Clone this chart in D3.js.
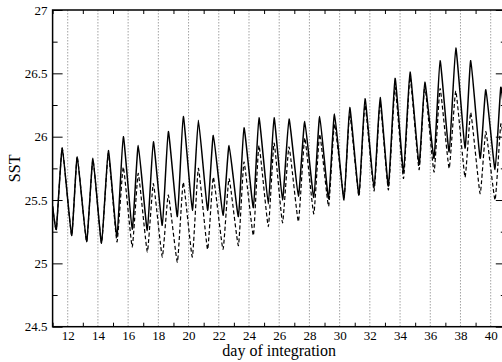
<!DOCTYPE html>
<html><head><meta charset="utf-8">
<script src="https://cdn.jsdelivr.net/npm/d3@7"></script>
<style>
html,body{margin:0;padding:0;background:#fff;}
svg{display:block;}
svg text{font-family:"Liberation Serif","DejaVu Serif",serif;}
</style></head>
<body>
<svg id="chart" width="502" height="362"></svg>
<script>
// Data: daily extremes (day, SST)
const solidDays = [11.0,11.25,11.64,12.26,12.63,13.25,13.67,14.24,14.69,15.26,15.68,16.27,16.67,17.27,17.67,18.26,18.66,19.26,19.65,20.25,20.65,21.26,21.64,22.28,22.68,23.3,23.67,24.29,24.66,25.28,25.66,26.22,26.65,27.27,27.69,28.29,28.68,29.27,29.66,30.29,30.67,31.28,31.68,32.28,32.68,33.23,33.67,34.23,34.66,35.26,35.64,36.25,36.65,37.25,37.69,38.3,38.68,39.3,39.68,40.29,40.67,41.0];
const solidSST = [25.45,25.27,25.91,25.22,25.84,25.17,25.83,25.16,25.89,25.21,26.0,25.27,25.93,25.26,25.96,25.30,26.04,25.37,26.16,25.42,26.13,25.42,26.01,25.38,25.93,25.37,26.07,25.44,26.15,25.47,26.15,25.50,26.14,25.53,26.12,25.52,26.16,25.51,26.18,25.50,26.23,25.54,26.30,25.59,26.31,25.61,26.46,25.72,26.51,25.78,26.43,25.83,26.60,25.88,26.70,25.91,26.60,25.83,26.37,25.74,26.39,26.05];
const dashedDays = solidDays;
const dashedSST = [25.45,25.27,25.91,25.22,25.84,25.17,25.82,25.16,25.87,25.17,25.76,25.13,25.71,25.09,25.63,25.05,25.54,25.01,25.64,25.05,25.75,25.11,25.68,25.11,25.67,25.14,25.80,25.22,25.93,25.29,25.95,25.32,25.92,25.33,25.99,25.39,26.02,25.45,26.10,25.52,26.18,25.53,26.25,25.57,26.27,25.58,26.39,25.67,26.47,25.74,26.40,25.72,26.38,25.75,26.36,25.68,26.19,25.55,26.04,25.50,26.10,25.85];
const xMajorTicks = [12,14,16,18,20,22,24,26,28,30,32,34,36,38,40];
const xMinorTicks = [11,13,15,17,19,21,23,25,27,29,31,33,35,37,39,41];
const yMajorTicks = [24.5,25,25.5,26,26.5,27];
const yMinorTicks = [24.75,25.25,25.75,26.25,26.75];
const xTitle = "day of integration";
const yTitle = "SST";

const FONT = "'Liberation Serif', 'DejaVu Serif', serif";
const svg = d3.select("#chart");
const L = 52.6, R = 505.8, T = 10, B = 326.7;
const x = d3.scaleLinear().domain([11,41]).range([L,R]);
const y = d3.scaleLinear().domain([24.5,27]).range([B,T]);

svg.append("defs").append("clipPath").attr("id","clip")
  .append("rect").attr("x",L).attr("y",T).attr("width",R-L).attr("height",B-T);

// gridlines at major x ticks
svg.append("g").selectAll("line").data(xMajorTicks).join("line")
  .attr("x1",d=>x(d)).attr("x2",d=>x(d)).attr("y1",T).attr("y2",B)
  .attr("stroke","#8c8c8c").attr("stroke-width",0.8).attr("stroke-dasharray","1.5,1.5");

const line = d3.line().curve(d3.curveCardinal.tension(0.6)).x(d=>x(d[0])).y(d=>y(d[1]));
const g = svg.append("g").attr("clip-path","url(#clip)");
g.append("path").datum(dashedDays.map((d,i)=>[d,dashedSST[i]]))
  .attr("d",line).attr("fill","none").attr("stroke","#000").attr("stroke-width",1.2)
  .attr("stroke-dasharray","4,2.5");
g.append("path").datum(solidDays.map((d,i)=>[d,solidSST[i]]))
  .attr("d",line).attr("fill","none").attr("stroke","#000").attr("stroke-width",1.5);

// axes
const fs = 13;
const bottom = svg.append("g").attr("transform",`translate(0,${B})`)
  .call(d3.axisBottom(x).tickValues(xMajorTicks).tickSize(0).tickPadding(4).tickFormat(d3.format("d")));
bottom.select(".domain").remove();
svg.append("g").attr("transform",`translate(0,${B})`)
  .call(d3.axisBottom(x).tickValues(xMinorTicks).tickSizeInner(-4).tickSizeOuter(0).tickFormat(""))
  .select(".domain").remove();
svg.append("g").attr("transform",`translate(0,${T})`)
  .call(d3.axisTop(x).tickValues(xMinorTicks).tickSizeInner(-4).tickSizeOuter(0).tickFormat(""))
  .select(".domain").remove();

const left = svg.append("g").attr("transform",`translate(${L},0)`)
  .call(d3.axisLeft(y).tickValues(yMajorTicks).tickSizeInner(-10).tickSizeOuter(0).tickPadding(5).tickFormat(d=>String(d)));
left.select(".domain").remove();
svg.append("g").attr("transform",`translate(${L},0)`)
  .call(d3.axisLeft(y).tickValues(yMinorTicks).tickSizeInner(-5).tickSizeOuter(0).tickFormat(""))
  .select(".domain").remove();
svg.append("g").attr("transform",`translate(${R},0)`)
  .call(d3.axisRight(y).tickValues(yMajorTicks).tickSizeInner(-10).tickSizeOuter(0).tickFormat(""))
  .select(".domain").remove();
svg.append("g").attr("transform",`translate(${R},0)`)
  .call(d3.axisRight(y).tickValues(yMinorTicks).tickSizeInner(-5).tickSizeOuter(0).tickFormat(""))
  .select(".domain").remove();

svg.selectAll("g").attr("font-family",FONT);
svg.selectAll(".tick text").attr("font-size",fs).style("font-family",FONT).attr("fill","#000");
svg.selectAll(".tick line").attr("stroke","#000").attr("stroke-width",1);

// frame
svg.append("rect").attr("x",L).attr("y",T).attr("width",R-L).attr("height",B-T)
  .attr("fill","none").attr("stroke","#000").attr("stroke-width",1.5);

svg.append("text").attr("x",(L+R)/2).attr("y",356).attr("text-anchor","middle")
  .style("font-family",FONT).attr("font-size",16).attr("fill","#000").text(xTitle);
svg.append("text").attr("transform",`translate(20,${(T+B)/2}) rotate(-90)`)
  .style("font-family",FONT).attr("text-anchor","middle").attr("font-size",16).attr("fill","#000").text(yTitle);
</script>
</body></html>
